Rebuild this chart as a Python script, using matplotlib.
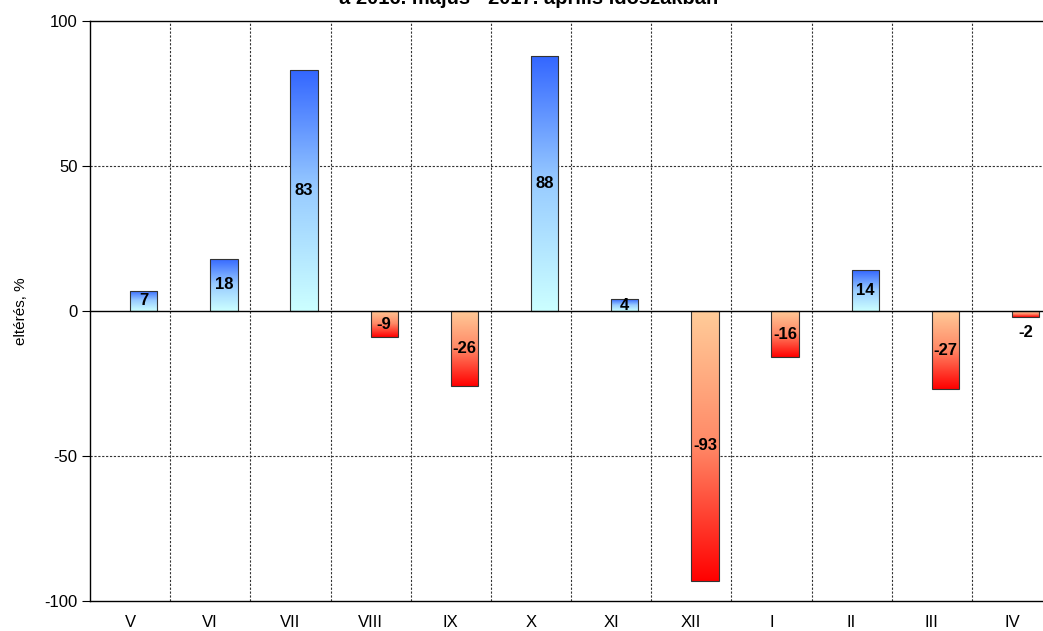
import numpy as np
import matplotlib.pyplot as plt
from matplotlib.colors import LinearSegmentedColormap

plt.rcParams['font.family'] = ['Liberation Sans', 'DejaVu Sans']
plt.rcParams['axes.unicode_minus'] = False

# --- data ---
months = ['V', 'VI', 'VII', 'VIII', 'IX', 'X', 'XI', 'XII', 'I', 'II', 'III', 'IV']
values = [7, 18, 83, -9, -26, 88, 4, -93, -16, 14, -27, -2]
title_text = 'a 2016. május - 2017. április időszakban'
y_label = 'eltérés, %'

# gradients: positive bars light cyan (bottom) -> blue (top)
pos_cmap = LinearSegmentedColormap.from_list('pos', ['#ccffff', '#99ccff', '#3366ff'])
# negative bars red (bottom) -> peach (top, at zero)
neg_cmap = LinearSegmentedColormap.from_list('neg', ['#ff0000', '#ff8866', '#ffcc99'])

W, H = 1043, 631
fig = plt.figure(figsize=(W / 100, H / 100), dpi=100)
ax = fig.add_axes([90 / W, 30 / H, 962 / W, 580 / H])

x = np.arange(len(months))
bars = ax.bar(x, values, width=0.34, align='edge', color='none',
              edgecolor='#333333', linewidth=0.8, zorder=3)

# fill each bar with a vertical gradient
grad = np.linspace(0, 1, 256).reshape(-1, 1)
for rect, v in zip(bars, values):
    x0 = rect.get_x()
    x1 = x0 + rect.get_width()
    y0, y1 = min(0, v), max(0, v)
    cmap = pos_cmap if v > 0 else neg_cmap
    im = ax.imshow(grad, cmap=cmap, origin='lower', aspect='auto',
                   extent=[x0, x1, y0, y1], zorder=2, interpolation='bilinear')
    im.set_clip_path(rect)

# value labels, centred in the bar (below it if the bar is tiny)
for xi, v in zip(x, values):
    xc = xi + 0.17
    yl = v - 5.5 if abs(v) < 3 else v / 2
    ax.text(xc, yl, str(v), ha='center', va='center',
            fontsize=12, fontweight='bold', zorder=5)

ax.set_xlim(-0.5, len(months) - 0.5)
ax.set_ylim(-100, 100)
ax.set_yticks([-100, -50, 0, 50, 100])
ax.set_xticks(x)
ax.set_xticklabels(months)
ax.tick_params(axis='x', length=0, pad=10, labelsize=12)
ax.tick_params(axis='y', length=6, width=0.8, pad=3, labelsize=12)

# grid
for yv in [-50, 50]:
    ax.axhline(yv, color='#333333', linestyle=(0, (2, 1.5)), linewidth=0.8, zorder=1)
ax.axhline(0, color='black', linewidth=1.0, zorder=4)
for xb in x[:-1] + 0.5:
    ax.axvline(xb, color='#333333', linestyle=(0, (2, 1.5)), linewidth=0.8, zorder=1)

for side in ['left', 'top', 'bottom']:
    ax.spines[side].set_linewidth(1.0)
ax.spines['right'].set_visible(False)

ax.set_ylabel(y_label, fontsize=11, labelpad=12)

fig.text(529 / W, 1 - 4 / H, title_text, ha='center', va='baseline',
         fontsize=14.5, fontweight='bold')

fig.savefig('out.png', dpi=100)
